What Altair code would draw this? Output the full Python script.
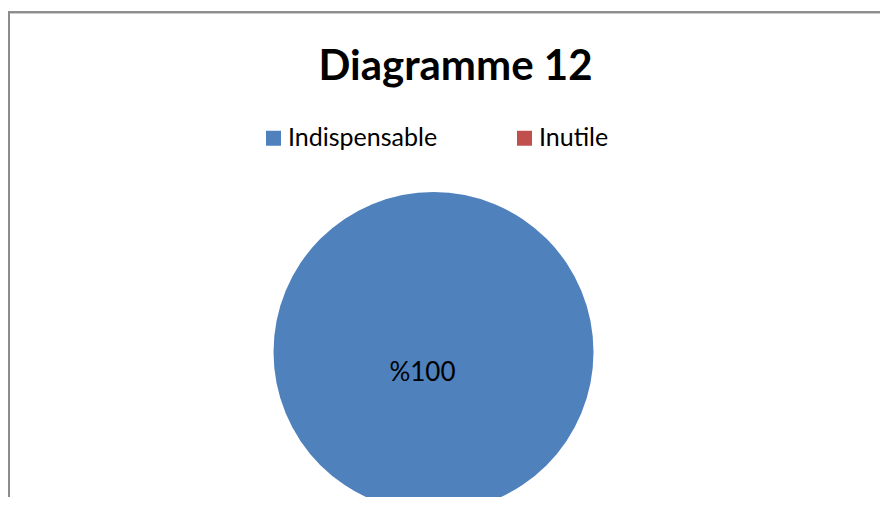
import altair as alt
import pandas as pd

categories = ["Indispensable", "Inutile"]
values = [100, 0]
labels = ["%100", ""]
colors = ["#4F81BD", "#C0504D"]

df = pd.DataFrame({"cat": categories, "val": values, "lab": labels})

FONT = "Lato"
W, H = 872, 486
BORDER = "#8C8C8C"

base = alt.Chart(df).encode(
    theta=alt.Theta("val:Q", stack=True),
    order=alt.Order("cat:N"),
)

pie = base.mark_arc(outerRadius=160, stroke=None).encode(
    x=alt.value(425.5),
    y=alt.value(341),
    color=alt.Color(
        "cat:N",
        scale=alt.Scale(domain=categories, range=colors),
        legend=alt.Legend(
            title=None,
            orient="none",
            legendX=253,
            legendY=114.5,
            direction="horizontal",
            symbolType="square",
            symbolSize=225,
            symbolStrokeWidth=0,
            labelFont=FONT,
            labelFontSize=25,
            labelColor="#000000",
            columnPadding=74,
            labelOffset=2,
        ),
    ),
)

txt = base.transform_filter(alt.datum.val > 0).mark_text(
    font=FONT, fontSize=26, color="#000000", radius=21, dx=-11
).encode(
    x=alt.value(425.5),
    y=alt.value(341),
    text="lab:N",
)

top_line = alt.Chart(df).mark_rule(color=BORDER, strokeWidth=2).encode(
    x=alt.value(0), x2=alt.value(W), y=alt.value(1.3)
)
left_line = alt.Chart(df).mark_rule(color=BORDER, strokeWidth=2).encode(
    x=alt.value(1), y=alt.value(0), y2=alt.value(H)
)

chart = (
    alt.layer(top_line, left_line, pie, txt)
    .properties(
        width=W,
        height=H,
        autosize=alt.AutoSizeParams(type="none"),
        padding={"left": 0, "top": 3, "right": 0, "bottom": 0},
        title=alt.TitleParams(
            "Diagramme 12",
            font=FONT,
            fontSize=42,
            fontWeight="bold",
            color="#000000",
            anchor="middle",
            orient="top",
            offset=-79,
            dx=11.5,
        ),
    )
    .configure_view(stroke=None)
    .configure(background="white")
)

chart.save("out.html", embed_options={"renderer": "svg", "actions": False})
